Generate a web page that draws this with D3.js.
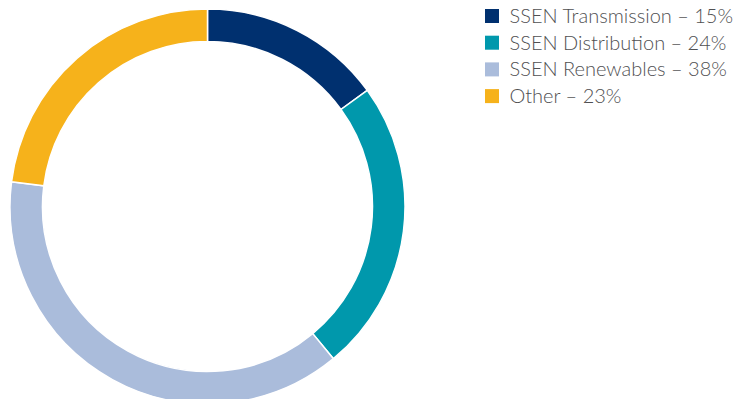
<!DOCTYPE html>
<html>
<head>
<meta charset="utf-8">
<script src="https://cdn.jsdelivr.net/npm/d3@7"></script>
<style>
	body { margin: 0; background: #fff; }
	#chart { width: 744px; height: 399px; }
</style>
</head>
<body>
<div id="chart"></div>
<script>
const dest		= '#chart';

const categories	= ['SSEN Transmission', 'SSEN Distribution', 'SSEN Renewables', 'Other'];
const shares		= [15, 24, 38, 23];
const colors		= ['#00306f', '#0098ac', '#aabcdb', '#f6b21b'];

function createDonut() {
	let width		= 744;
	let height		= 399;

	let cx			= 207.5;
	let cy			= 206.5;
	let outer		= 197.5;
	let inner		= 165;

	let data		= categories.map((o, i) => ({ name: o, value: shares[i], color: colors[i] }));

	let svg = d3.select(dest).append('svg')
		.attr('width', width)
		.attr('height', height);

	let pie		= d3.pie().sort(null).value((o) => (o.value));
	let arc		= d3.arc().innerRadius(inner).outerRadius(outer);

	svg.append('g')
		.attr('transform', 'translate(' + cx + ',' + cy + ')')
		.selectAll('path')
		.data(pie(data))
			.enter().append('path')
			.attr('d', arc)
			.attr('fill', (o) => (o.data.color))
			.attr('stroke', '#fff')
			.attr('stroke-width', 1.5);

	// legend
	let legend = svg.append('g')
		.attr('transform', 'translate(485,9)');

	let row = legend.selectAll('g')
		.data(data)
			.enter().append('g')
			.attr('transform', (o, i) => ('translate(0,' + (i * 26.7) + ')'));

	row.append('rect')
		.attr('width', 14)
		.attr('height', 14)
		.attr('fill', (o) => (o.color));

	row.append('text')
		.attr('x', 24.5)
		.attr('y', 14)
		.attr('font-family', 'Lato, sans-serif')
		.attr('font-weight', 300)
		.attr('font-size', '20px')
		.attr('fill', '#505052')
		.text((o) => (o.name + ' \u2013 ' + o.value + '%'));
}

createDonut();
</script>
</body>
</html>
